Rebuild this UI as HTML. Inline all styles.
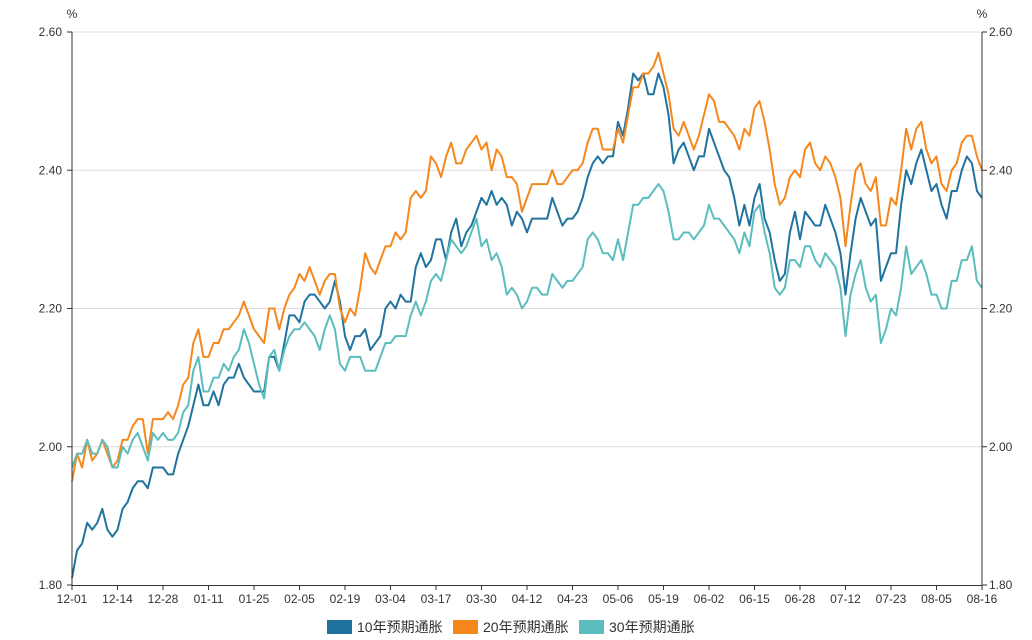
<!DOCTYPE html>
<html><head><meta charset="utf-8"><style>
body{margin:0;background:#fff;}
svg{display:block;font-family:"Liberation Sans","Noto Sans CJK SC",sans-serif;}
</style></head><body>
<svg id="chart" width="1032" height="640"></svg>
<script>
const categories=["12-01","12-14","12-28","01-11","01-25","02-05","02-19","03-04","03-17","03-30","04-12","04-23","05-06","05-19","06-02","06-15","06-28","07-12","07-23","08-05","08-16"];
const yTicks=[1.80,2.00,2.20,2.40,2.60];
const seriesNames=["10年预期通胀","20年预期通胀","30年预期通胀"];
const series10=[1.81,1.85,1.86,1.89,1.88,1.89,1.91,1.88,1.87,1.88,1.91,1.92,1.94,1.95,1.95,1.94,1.97,1.97,1.97,1.96,1.96,1.99,2.01,2.03,2.06,2.09,2.06,2.06,2.08,2.06,2.09,2.10,2.10,2.12,2.10,2.09,2.08,2.08,2.08,2.13,2.13,2.11,2.15,
2.19,2.19,2.18,2.21,2.22,2.22,2.21,2.20,2.21,2.24,2.21,2.16,2.14,2.16,2.16,2.17,2.14,2.15,2.16,2.20,2.21,2.20,2.22,2.21,2.21,2.26,2.28,2.26,2.27,2.30,2.30,2.27,2.31,2.33,2.29,2.31,2.32,2.34,2.36,2.35,2.37,2.35,2.36,2.35,2.32,2.34,2.33,2.31,2.33,2.33,
2.33,2.33,2.36,2.34,2.32,2.33,2.33,2.34,2.36,2.39,2.41,2.42,2.41,2.42,2.42,2.47,2.45,2.49,2.54,2.53,2.54,2.51,2.51,2.54,2.52,2.48,2.41,2.43,2.44,2.42,2.40,2.42,2.42,2.46,2.44,2.42,2.40,2.39,2.36,2.32,2.35,2.32,2.36,2.38,2.33,
2.31,2.27,2.24,2.25,2.31,2.34,2.30,2.34,2.33,2.32,2.32,2.35,2.33,2.31,2.28,2.22,2.28,2.33,2.36,2.34,2.32,2.33,2.24,2.26,2.28,2.28,2.35,2.40,2.38,2.41,2.43,2.40,2.37,2.38,2.35,2.33,2.37,2.37,2.40,2.42,2.41,2.37,2.36];
const series20=[1.95,1.99,1.97,2.01,1.98,1.99,2.01,1.99,1.97,1.98,2.01,2.01,2.03,2.04,2.04,1.99,2.04,2.04,2.04,2.05,2.04,2.06,2.09,2.10,2.15,2.17,2.13,2.13,2.15,2.15,2.17,2.17,2.18,2.19,2.21,2.19,2.17,2.16,2.15,2.20,2.20,2.17,2.20,
2.22,2.23,2.25,2.24,2.26,2.24,2.22,2.24,2.25,2.25,2.20,2.18,2.20,2.19,2.23,2.28,2.26,2.25,2.27,2.29,2.29,2.31,2.30,2.31,2.36,2.37,2.36,2.37,2.42,2.41,2.39,2.42,2.44,2.41,2.41,2.43,2.44,2.45,2.43,2.44,2.40,2.43,2.42,2.39,2.39,2.38,2.34,2.36,2.38,2.38,
2.38,2.38,2.40,2.38,2.38,2.39,2.40,2.40,2.41,2.44,2.46,2.46,2.43,2.43,2.43,2.46,2.44,2.48,2.52,2.52,2.54,2.54,2.55,2.57,2.54,2.51,2.46,2.45,2.47,2.45,2.43,2.45,2.48,2.51,2.50,2.47,2.47,2.46,2.45,2.43,2.46,2.45,2.49,2.50,2.47,
2.43,2.38,2.35,2.36,2.39,2.40,2.39,2.43,2.44,2.41,2.40,2.42,2.41,2.39,2.36,2.29,2.35,2.40,2.41,2.38,2.37,2.39,2.32,2.32,2.36,2.35,2.40,2.46,2.43,2.46,2.47,2.43,2.41,2.42,2.38,2.37,2.40,2.41,2.44,2.45,2.45,2.42,2.40];
const series30=[1.97,1.99,1.99,2.01,1.99,1.99,2.01,2.00,1.97,1.97,2.00,1.99,2.01,2.02,2.00,1.98,2.02,2.01,2.02,2.01,2.01,2.02,2.05,2.06,2.11,2.13,2.08,2.08,2.10,2.10,2.12,2.11,2.13,2.14,2.17,2.15,2.12,2.09,2.07,2.13,2.14,2.11,2.14,
2.16,2.17,2.17,2.18,2.17,2.16,2.14,2.17,2.19,2.17,2.12,2.11,2.13,2.13,2.13,2.11,2.11,2.11,2.13,2.15,2.15,2.16,2.16,2.16,2.19,2.21,2.19,2.21,2.24,2.25,2.24,2.27,2.30,2.29,2.28,2.29,2.31,2.33,2.29,2.30,2.27,2.28,2.26,2.22,2.23,2.22,2.20,2.21,2.23,2.23,
2.22,2.22,2.25,2.24,2.23,2.24,2.24,2.25,2.26,2.30,2.31,2.30,2.28,2.28,2.27,2.30,2.27,2.31,2.35,2.35,2.36,2.36,2.37,2.38,2.37,2.34,2.30,2.30,2.31,2.31,2.30,2.31,2.32,2.35,2.33,2.33,2.32,2.31,2.30,2.28,2.31,2.29,2.34,2.35,2.31,
2.28,2.23,2.22,2.23,2.27,2.27,2.26,2.29,2.29,2.27,2.26,2.28,2.27,2.26,2.23,2.16,2.22,2.25,2.27,2.23,2.21,2.22,2.15,2.17,2.20,2.19,2.23,2.29,2.25,2.26,2.27,2.25,2.22,2.22,2.20,2.20,2.24,2.24,2.27,2.27,2.29,2.24,2.23];

const NS='http://www.w3.org/2000/svg';
const svg=document.getElementById('chart');
const L=72,R=982,T=32,B=585,yMin=1.8,yMax=2.6;
const nPts=series10.length;
const tickEvery=(nPts-1)/(categories.length-1);
function xScale(i){return L+(R-L)*i/(nPts-1);}
function yScale(v){return B-(v-yMin)/(yMax-yMin)*(B-T);}
function mk(tag,attrs,parent){const e=document.createElementNS(NS,tag);for(const k in attrs)e.setAttribute(k,attrs[k]);(parent||svg).appendChild(e);return e;}

const grid=mk('g',{});


yTicks.forEach(t=>{
  const y=yScale(t);
  if(t>yMin){const g=mk('line',{x1:L,x2:R,y1:y,y2:y,stroke:'#dcdcdc','stroke-width':1},grid);
  
  }
  const lt=mk('text',{x:L-10,y:y+4,'text-anchor':'end','font-size':12,fill:'#333'});
  lt.textContent=t.toFixed(2);
  
  
  const rt=mk('text',{x:R+7,y:y+4,'text-anchor':'start','font-size':12,fill:'#333'});
  rt.textContent=t.toFixed(2);
  
  
  const tk1=mk('line',{x1:L-5,x2:L,y1:y,y2:y,stroke:'#333'});
  
  
  const tk2=mk('line',{x1:R,x2:R+5,y1:y,y2:y,stroke:'#333'});
  
  
});
const u1=mk('text',{x:72,y:18,'text-anchor':'middle','font-size':12,fill:'#333'});u1.textContent='%';


const u2=mk('text',{x:982,y:18,'text-anchor':'middle','font-size':12,fill:'#333'});u2.textContent='%';



const colors=['#21739f','#f5881d','#5bbdbd'];
[series10,series20,series30].forEach((s,k)=>{
  const d=s.map((v,i)=>(i?'L':'M')+xScale(i).toFixed(2)+','+yScale(v).toFixed(2)).join(' ');
  const p=mk('path',{d:d,fill:'none',stroke:colors[k],'stroke-width':2,'stroke-linejoin':'round'});
  
  
});

const ax=mk('g',{});


mk('line',{x1:L,x2:L,y1:T,y2:B,stroke:'#333'},ax);
mk('line',{x1:R,x2:R,y1:T,y2:B,stroke:'#333'},ax);
mk('line',{x1:L,x2:R,y1:B+0.5,y2:B+0.5,stroke:'#333'},ax);
categories.forEach((c,j)=>{
  const x=xScale(j*tickEvery);
  const tk=mk('line',{x1:x,x2:x,y1:B,y2:B+5,stroke:'#333'});
  
  
  const t=mk('text',{x:x,y:B+18,'text-anchor':'middle','font-size':12,fill:'#333'});
  t.textContent=c;
  
  
});

const lg=mk('g',{});


const lx=[327,453,579];
seriesNames.forEach((n,k)=>{
  const r=mk('rect',{x:lx[k],y:620,width:25,height:14,fill:colors[k]},lg);
  
  
  const t=mk('text',{x:lx[k]+30,y:632,'font-size':14,fill:'#333'},lg);
  t.textContent=n;
  
  
});
</script>
</body></html>
